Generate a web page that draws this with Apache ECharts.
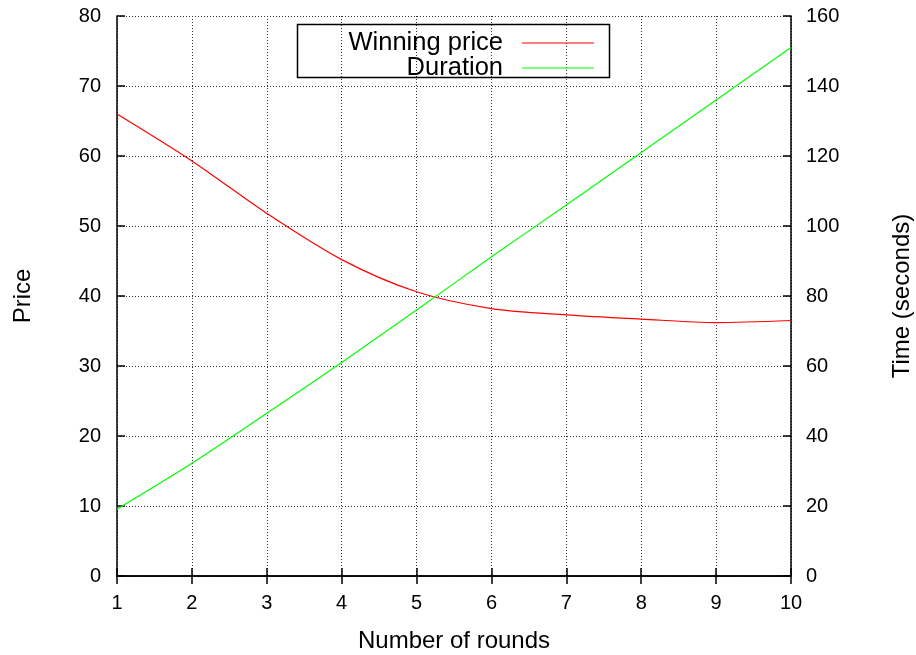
<!DOCTYPE html>
<html>
<head>
<meta charset="utf-8">
<script src="https://cdn.jsdelivr.net/npm/echarts@6/dist/echarts.min.js"></script>
<style>
    html, body { margin: 0; padding: 0; background: #fff; }
    #chart { width: 916px; height: 655px; }
</style>
</head>
<body>
<div id="chart"></div>
<script>
    // values
    var rounds = [1, 2, 3, 4, 5, 6, 7, 8, 9, 10];
    var winningPrice = [66.0, 59.3, 51.8, 45.2, 40.6, 38.2, 37.3, 36.7, 36.2, 36.5];
    var durationSec = [19.1, 32.2, 46.5, 61.0, 76.0, 91.2, 106.0, 121.0, 136.0, 151.0];

    var pairs = function (xs, ys) {
        return xs.map(function (x, i) { return [x, ys[i]]; });
    };

    var font = 'Liberation Sans, Arial, Helvetica, sans-serif';
    var gridLine = { show: true, lineStyle: { color: '#333', type: [1, 2], width: 1 } };
    var border = { show: true, lineStyle: { color: '#000', width: 1.5 } };
    var ticks = { show: true, inside: true, length: 8, lineStyle: { color: '#000', width: 1.5 } };
    var nameStyle = { color: '#000', fontSize: 24, fontFamily: font };

    var legendText = {
        color: '#000', fontSize: 25.5, fontFamily: font,
        rich: { n: { fontSize: 25.5, fontFamily: font, color: '#000', padding: [0, 14, 0, 0] } }
    };
    var legendBase = {
        right: 317, align: 'right', icon: 'rect',
        itemWidth: 72, itemHeight: 1.2,
        formatter: '{n|{name}}',
        textStyle: legendText
    };

    var chart = echarts.init(document.getElementById('chart'));
    chart.setOption({
        animation: false,
        grid: { left: 117, right: 125, top: 16, bottom: 79, containLabel: false, outerBoundsMode: 'none' },
        legend: [
            Object.assign({ data: ['Winning price'], top: 38 - 13 }, legendBase),
            Object.assign({ data: ['Duration'], top: 63 - 13 }, legendBase)
        ],
        graphic: [{
            type: 'rect', z: 100,
            shape: { x: 297.5, y: 24.5, width: 312, height: 53 },
            style: { fill: 'none', stroke: '#000', lineWidth: 1.5 }
        }],
        xAxis: [{
            type: 'value', min: 1, max: 10, interval: 1,
            name: 'Number of rounds', nameLocation: 'middle', nameGap: 53,
            nameTextStyle: nameStyle,
            axisLine: border, axisTick: ticks,
            axisLabel: { margin: 17, fontSize: 20, color: '#000', fontFamily: font },
            splitLine: gridLine
        }, {
            type: 'value', min: 1, max: 10, interval: 1, position: 'top',
            axisLine: border, axisTick: ticks,
            axisLabel: { show: false }, splitLine: { show: false }
        }],
        yAxis: [{
            type: 'value', min: 0, max: 80, interval: 10,
            name: 'Price', nameLocation: 'middle', nameGap: 82,
            nameTextStyle: nameStyle,
            axisLine: border, axisTick: ticks,
            axisLabel: { margin: 16, fontSize: 20, color: '#000', fontFamily: font },
            splitLine: gridLine
        }, {
            type: 'value', min: 0, max: 160, interval: 20,
            name: 'Time (seconds)', nameLocation: 'middle', nameGap: 99,
            nameRotate: 90,
            nameTextStyle: nameStyle,
            axisLine: border, axisTick: ticks,
            axisLabel: { margin: 15, fontSize: 20, color: '#000', fontFamily: font },
            splitLine: { show: false }
        }],
        series: [{
            name: 'Winning price', type: 'line', yAxisIndex: 0,
            data: pairs(rounds, winningPrice),
            smooth: 0.3, showSymbol: false, symbol: 'none',
            lineStyle: { color: '#ff0000', width: 1.2 },
            itemStyle: { color: '#ff0000' }
        }, {
            name: 'Duration', type: 'line', yAxisIndex: 1,
            data: pairs(rounds, durationSec),
            smooth: 0.3, showSymbol: false, symbol: 'none',
            lineStyle: { color: '#00ff00', width: 1.2 },
            itemStyle: { color: '#00ff00' }
        }]
    });
</script>
</body>
</html>
